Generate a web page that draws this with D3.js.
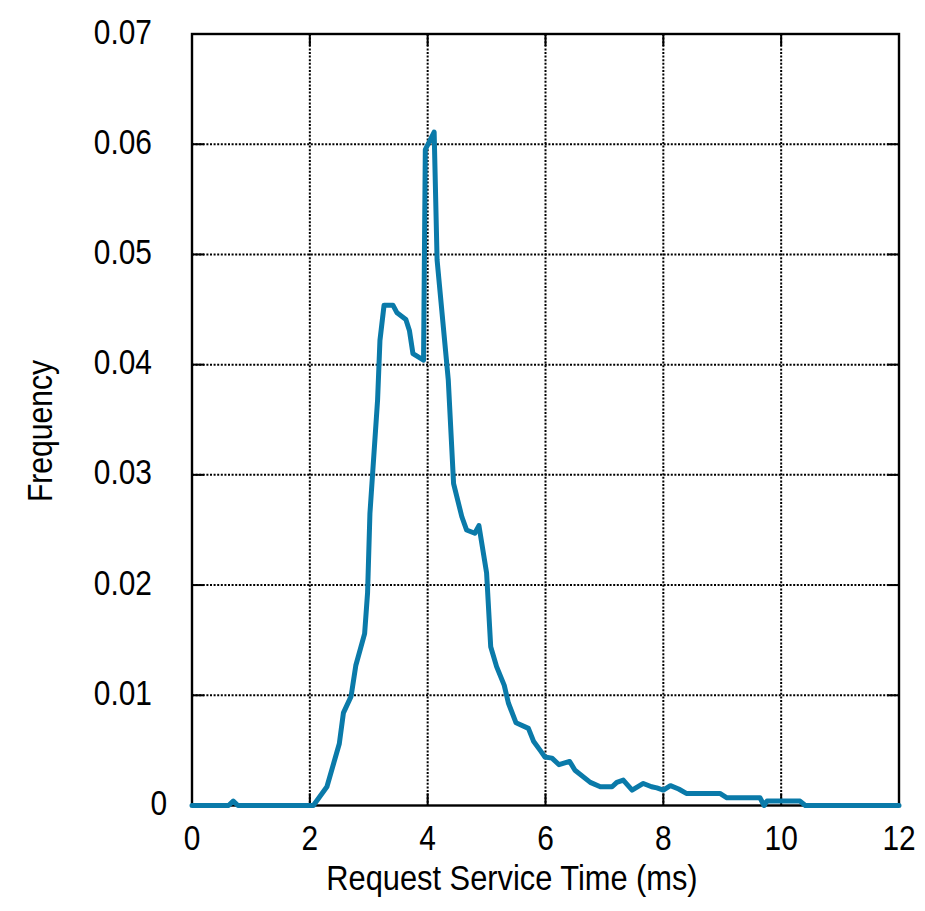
<!DOCTYPE html>
<html>
<head>
<meta charset="utf-8">
<script src="https://cdn.jsdelivr.net/npm/d3@7"></script>
<style>
  body { margin: 0; background: #fff; }
  svg text { font-family: "Liberation Sans", Arial, sans-serif; fill: #000; }
</style>
</head>
<body>
<svg id="chart" width="925" height="911"></svg>
<script>
// service time (ms) and frequency
const serviceTime = [0, 0.62, 0.7, 0.78, 2.06, 2.29, 2.5, 2.57, 2.7, 2.78, 2.93, 2.98, 3.02, 3.15, 3.19, 3.26, 3.41, 3.48, 3.63, 3.69, 3.75, 3.93, 3.96, 4.11, 4.16, 4.35, 4.44, 4.58, 4.66, 4.8, 4.87, 5.0, 5.07, 5.17, 5.3, 5.37, 5.5, 5.71, 5.8, 5.91, 5.99, 6.11, 6.23, 6.41, 6.5, 6.76, 6.93, 7.13, 7.21, 7.32, 7.47, 7.66, 7.8, 7.89, 8.0, 8.12, 8.26, 8.39, 8.96, 9.08, 9.64, 9.71, 9.76, 10.32, 10.41, 12];
const frequency = [0, 0, 0.0004, 0, 0, 0.0017, 0.0056, 0.0084, 0.0099, 0.0127, 0.0156, 0.0193, 0.0265, 0.0368, 0.0422, 0.0454, 0.0454, 0.0447, 0.0441, 0.0431, 0.041, 0.0404, 0.0595, 0.0611, 0.0495, 0.0386, 0.0292, 0.0262, 0.025, 0.0247, 0.0254, 0.0211, 0.0144, 0.0126, 0.0109, 0.0093, 0.0075, 0.007, 0.0058, 0.005, 0.0044, 0.0043, 0.0037, 0.004, 0.0032, 0.0021, 0.0017, 0.0017, 0.0021, 0.0023, 0.0014, 0.002, 0.0017, 0.0016, 0.0014, 0.0018, 0.0015, 0.0011, 0.0011, 0.0007, 0.0007, 0, 0.0004, 0.0004, 0, 0];
const xTicks = [0, 2, 4, 6, 8, 10, 12];
const yTicks = [0, 0.01, 0.02, 0.03, 0.04, 0.05, 0.06, 0.07];

const svg = d3.select("#chart");
const plotL = 192, plotR = 899, plotT = 34, plotB = 805.5;
const narrow = 0.83; // squeeze the sans font to look like a narrow face

const x = d3.scaleLinear().domain([0, 12]).range([plotL, plotR]);
const y = d3.scaleLinear().domain([0, 0.07]).range([plotB, plotT]);

// dotted grid
const grid = svg.append("g")
    .attr("stroke", "#000")
    .attr("stroke-width", 2)
    .attr("stroke-dasharray", "2,1.6");
grid.selectAll("line.gx")
  .data(xTicks.slice(1, -1))
  .join("line")
    .attr("class", "gx")
    .attr("x1", d => x(d)).attr("x2", d => x(d))
    .attr("y1", plotT).attr("y2", plotB);
grid.selectAll("line.gy")
  .data(yTicks.slice(1, -1))
  .join("line")
    .attr("class", "gy")
    .attr("x1", plotL).attr("x2", plotR)
    .attr("y1", d => y(d)).attr("y2", d => y(d));

// inward tick marks on all four sides
const ticks = svg.append("g").attr("stroke", "#000").attr("stroke-width", 2);
const tl = 12;
xTicks.forEach(t => {
  ticks.append("line").attr("x1", x(t)).attr("x2", x(t)).attr("y1", plotB).attr("y2", plotB - tl);
  ticks.append("line").attr("x1", x(t)).attr("x2", x(t)).attr("y1", plotT).attr("y2", plotT + tl);
});
yTicks.forEach(t => {
  ticks.append("line").attr("x1", plotL).attr("x2", plotL + tl).attr("y1", y(t)).attr("y2", y(t));
  ticks.append("line").attr("x1", plotR).attr("x2", plotR - tl).attr("y1", y(t)).attr("y2", y(t));
});

// frame
svg.append("rect")
    .attr("x", plotL).attr("y", plotT)
    .attr("width", plotR - plotL).attr("height", plotB - plotT)
    .attr("fill", "none")
    .attr("stroke", "#000")
    .attr("stroke-width", 2.4);

// the curve
const pts = serviceTime.map((t, i) => [t, frequency[i]]);
const line = d3.line().x(d => x(d[0])).y(d => y(d[1]));
svg.append("path")
    .datum(pts)
    .attr("fill", "none")
    .attr("stroke", "#0a7aa9")
    .attr("stroke-width", 5)
    .attr("stroke-linejoin", "round")
    .attr("stroke-linecap", "round")
    .attr("d", line);

// tick labels
svg.append("g").selectAll("text")
  .data(xTicks)
  .join("text")
    .attr("transform", d => `translate(${x(d)},850) scale(${narrow},1)`)
    .attr("text-anchor", "middle")
    .style("font-size", "36px")
    .text(d => d);

const fmtY = d => d === 0 ? "0" : d3.format(".2f")(d);
svg.append("g").selectAll("text")
  .data(yTicks)
  .join("text")
    .attr("transform", d => `translate(${d === 0 ? 167 : 152},${y(d) + 9.5}) scale(${narrow},1)`)
    .attr("text-anchor", "end")
    .style("font-size", "36px")
    .text(fmtY);

// axis titles
svg.append("text")
    .attr("transform", `translate(512,890) scale(0.88,1)`)
    .attr("text-anchor", "middle")
    .style("font-size", "35px")
    .text("Request Service Time (ms)");

svg.append("text")
    .attr("transform", "translate(52,431) rotate(-90) scale(0.86,1)")
    .attr("text-anchor", "middle")
    .style("font-size", "35px")
    .text("Frequency");
</script>
</body>
</html>
